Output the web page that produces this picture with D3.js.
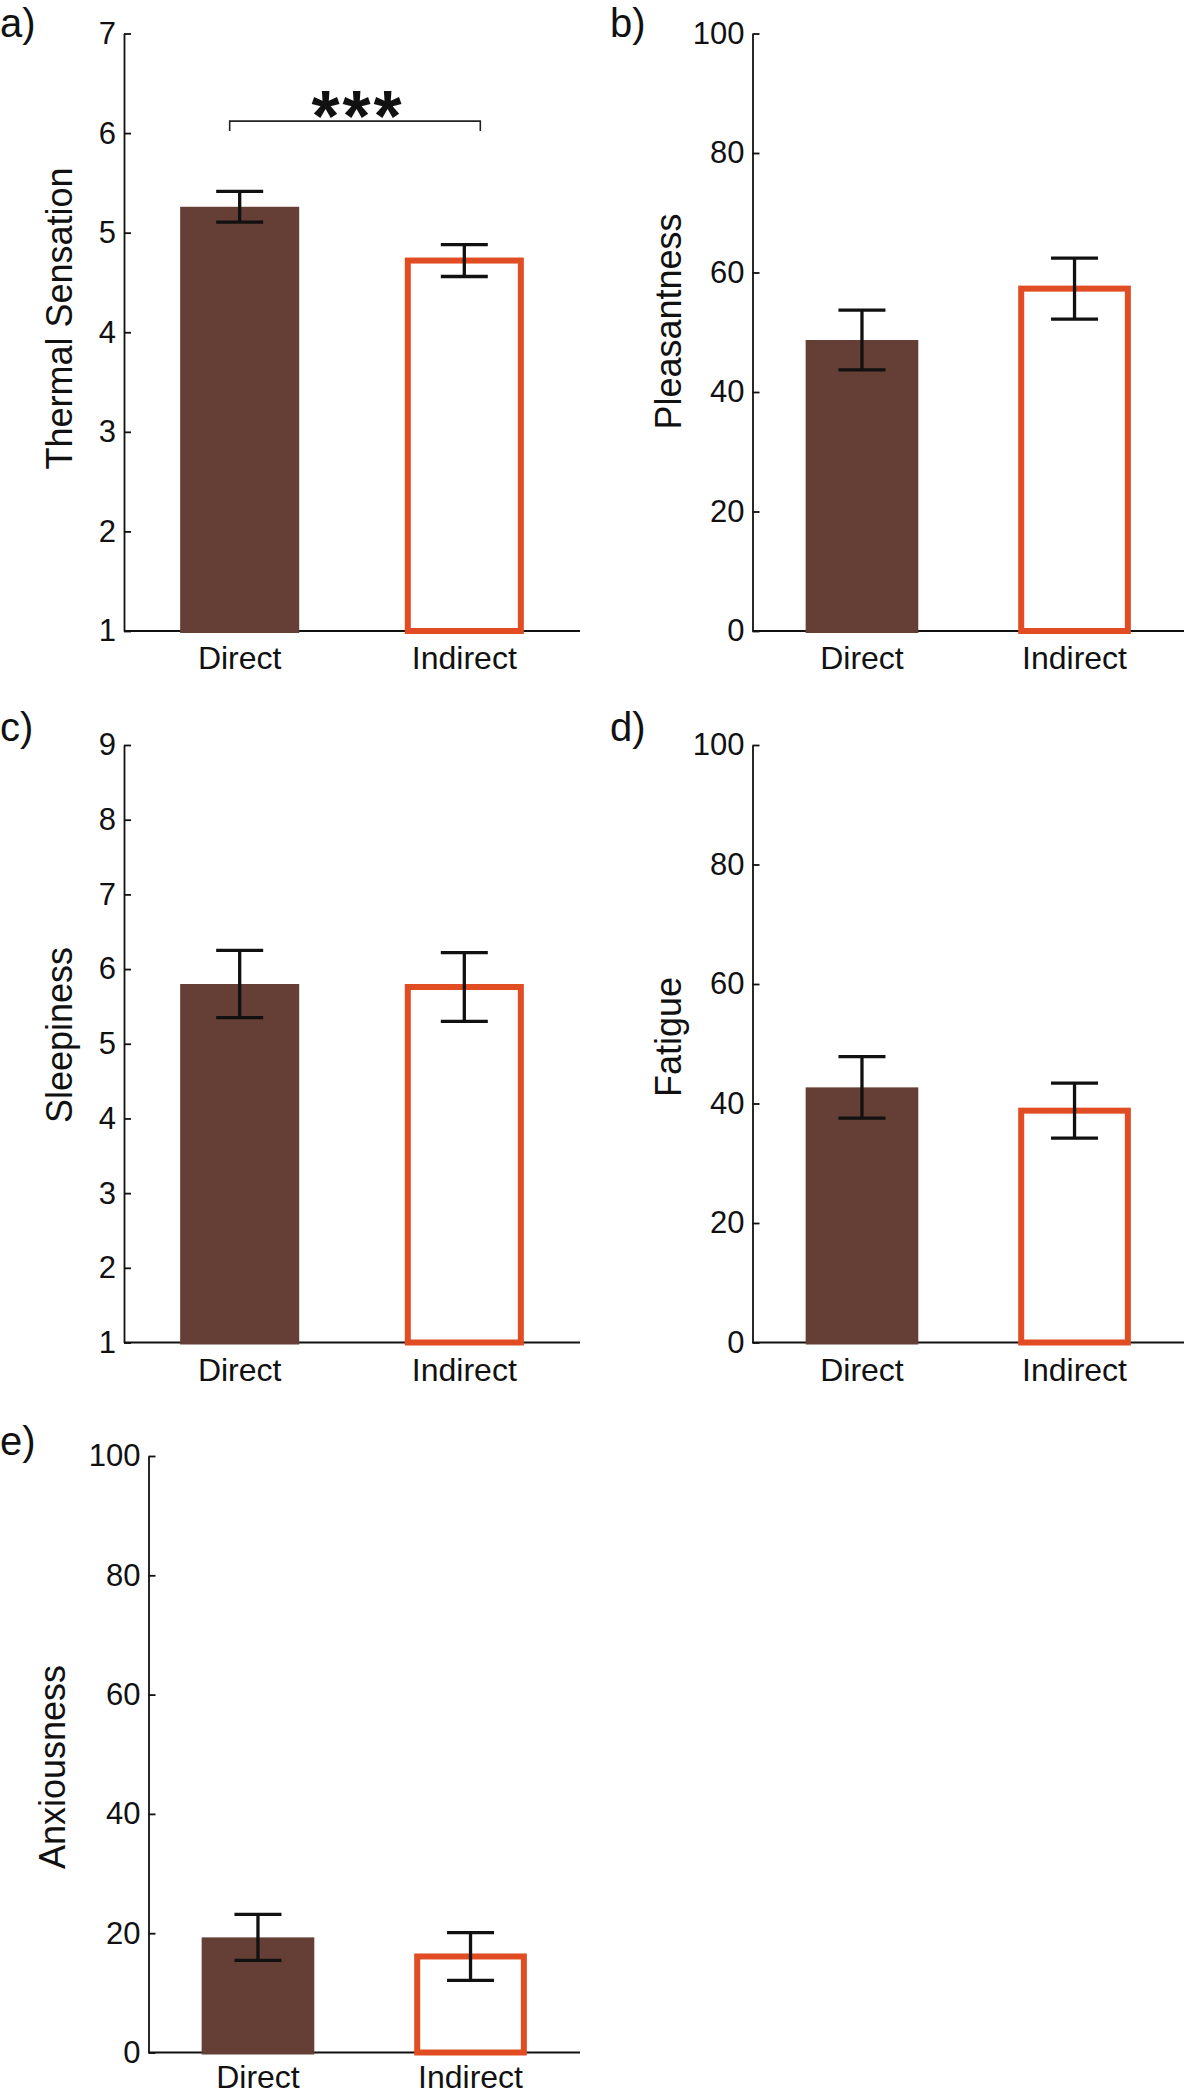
<!DOCTYPE html>
<html>
<head>
<meta charset="utf-8">
<script src="https://cdn.jsdelivr.net/npm/d3@7"></script>
<style>
  body { margin: 0; background: #fff; }
  svg { display: block; font-family: "Liberation Sans", Arial, Helvetica, sans-serif; }
</style>
</head>
<body>
<div id="chart"></div>
<script>
// data
var categories = ["Direct", "Indirect"];

var thermalMean = [5.26, 4.72];
var thermalErr = [0.155, 0.16];
var pleasantMean = [48.7, 57.3];
var pleasantErr = [5.0, 5.1];
var sleepMean = [5.8, 5.76];
var sleepErr = [0.45, 0.46];
var fatigueMean = [42.7, 38.8];
var fatigueErr = [5.15, 4.6];
var anxMean = [19.3, 16.1];
var anxErr = [3.85, 4.0];

var ticksThermal = [1, 2, 3, 4, 5, 6, 7];
var ticksSleep = [1, 2, 3, 4, 5, 6, 7, 8, 9];
var ticksPercent = [0, 20, 40, 60, 80, 100];

var brown = "#653f35";
var orange = "#e24c22";

var svg = d3.select("#chart").append("svg")
    .attr("width", 1184)
    .attr("height", 2092);

svg.append("rect").attr("width", 1184).attr("height", 2092).attr("fill", "#fff");

function drawPanel(p) {
    var g = svg.append("g").attr("transform", "translate(" + p.left + "," + p.top + ")");

    var x = d3.scaleBand()
        .domain(categories)
        .range([0, p.width])
        .paddingInner(0.47)
        .paddingOuter(0.25);
    var y = d3.scaleLinear()
        .domain(d3.extent(p.ticks))
        .range([p.height, 0]);
    var base = y.domain()[0];

    // y axis, ticks pointing inward
    var yAxis = g.append("g")
        .call(d3.axisLeft(y).tickValues(p.ticks).tickFormat(d3.format("d"))
            .tickSizeInner(-7).tickSizeOuter(0).tickPadding(8));
    yAxis.select(".domain").attr("stroke", "#111").attr("stroke-width", 1.8);
    yAxis.selectAll(".tick line").attr("stroke", "#111").attr("stroke-width", 1.8);
    yAxis.selectAll(".tick text")
        .attr("font-size", 31)
        .attr("fill", "#111")
        .attr("font-family", "Liberation Sans, Arial, sans-serif");

    // x axis line
    g.append("line")
        .attr("x1", 0).attr("x2", p.xEnd)
        .attr("y1", y(base)).attr("y2", y(base))
        .attr("stroke", "#111").attr("stroke-width", 1.8);

    // x labels
    g.selectAll(".xlab")
        .data(categories)
        .enter().append("text")
        .attr("x", function (d) { return x(d) + x.bandwidth() / 2; })
        .attr("y", y(base) + p.xlabOffset)
        .attr("text-anchor", "middle")
        .attr("font-size", 32)
        .attr("fill", "#111")
        .text(function (d) { return d; });

    // Direct: filled bar
    g.append("rect")
        .attr("x", x(categories[0]))
        .attr("y", y(p.mean[0]))
        .attr("width", x.bandwidth())
        .attr("height", y(base) - y(p.mean[0]) + 2)
        .attr("fill", brown);

    // Indirect: outlined bar
    g.append("rect")
        .attr("x", x(categories[1]) + 3)
        .attr("y", y(p.mean[1]))
        .attr("width", x.bandwidth() - 6)
        .attr("height", y(base) - y(p.mean[1]))
        .attr("fill", "#fff")
        .attr("stroke", orange)
        .attr("stroke-width", 6);

    // error bars
    var cap = 23.5;
    categories.forEach(function (c, i) {
        var cx = x(c) + x.bandwidth() / 2;
        var hi = y(p.mean[i] + p.err[i]);
        var lo = y(p.mean[i] - p.err[i]);
        var eb = g.append("g").attr("stroke", "#111").attr("stroke-width", 3.3);
        eb.append("line").attr("x1", cx).attr("x2", cx).attr("y1", hi).attr("y2", lo);
        eb.append("line").attr("x1", cx - cap).attr("x2", cx + cap).attr("y1", hi).attr("y2", hi);
        eb.append("line").attr("x1", cx - cap).attr("x2", cx + cap).attr("y1", lo).attr("y2", lo);
    });

    // y label
    g.append("text")
        .attr("transform", "translate(" + p.labelX + "," + p.labelY + ") rotate(-90)")
        .attr("text-anchor", "middle")
        .attr("font-size", 36)
        .attr("fill", "#111")
        .text(p.label);

    // panel letter
    svg.append("text")
        .attr("x", p.letterX)
        .attr("y", p.letterY)
        .attr("font-size", 40)
        .attr("fill", "#111")
        .text(p.letter);

    return { g: g, x: x, y: y };
}

var a = drawPanel({ letter: "a)", letterX: 0, letterY: 37, left: 124, top: 33.5, width: 456, xEnd: 456, height: 597.5, xlabOffset: 38,
    ticks: ticksThermal, mean: thermalMean, err: thermalErr, label: "Thermal Sensation", labelX: -52, labelY: 285 });
drawPanel({ letter: "b)", letterX: 610, letterY: 37, left: 752.5, top: 33.5, width: 431.5, xEnd: 431.5, height: 597.5, xlabOffset: 38,
    ticks: ticksPercent, mean: pleasantMean, err: pleasantErr, label: "Pleasantness", labelX: -72, labelY: 288 });
drawPanel({ letter: "c)", letterX: 0, letterY: 741, left: 124, top: 745, width: 456, xEnd: 456, height: 597.5, xlabOffset: 38,
    ticks: ticksSleep, mean: sleepMean, err: sleepErr, label: "Sleepiness", labelX: -52, labelY: 290 });
drawPanel({ letter: "d)", letterX: 610, letterY: 741, left: 752.5, top: 745, width: 431.5, xEnd: 431.5, height: 597.5, xlabOffset: 38,
    ticks: ticksPercent, mean: fatigueMean, err: fatigueErr, label: "Fatigue", labelX: -72, labelY: 292 });
drawPanel({ letter: "e)", letterX: 0, letterY: 1455, left: 148.5, top: 1456, width: 431.5, xEnd: 431.5, height: 596.5, xlabOffset: 35,
    ticks: ticksPercent, mean: anxMean, err: anxErr, label: "Anxiousness", labelX: -84, labelY: 311 });

// significance bracket for panel a
var bx0 = a.x("Direct") + a.x.bandwidth() / 2 - 10;
var bx1 = a.x("Indirect") + a.x.bandwidth() / 2 + 16;
var by = a.y(6.12);
var byEnd = a.y(6.02);
a.g.append("path")
    .attr("d", "M" + bx0 + "," + byEnd + "V" + by + "H" + bx1 + "V" + byEnd)
    .attr("fill", "none")
    .attr("stroke", "#222")
    .attr("stroke-width", 1.6);
a.g.append("text")
    .attr("x", (bx0 + bx1) / 2 + 3)
    .attr("y", a.y(6.4))
    .attr("dy", "0.66em")
    .attr("text-anchor", "middle")
    .attr("font-size", 72)
    .attr("font-weight", "bold")
    .attr("letter-spacing", 3)
    .attr("fill", "#111")
    .text("***");
</script>
</body>
</html>
